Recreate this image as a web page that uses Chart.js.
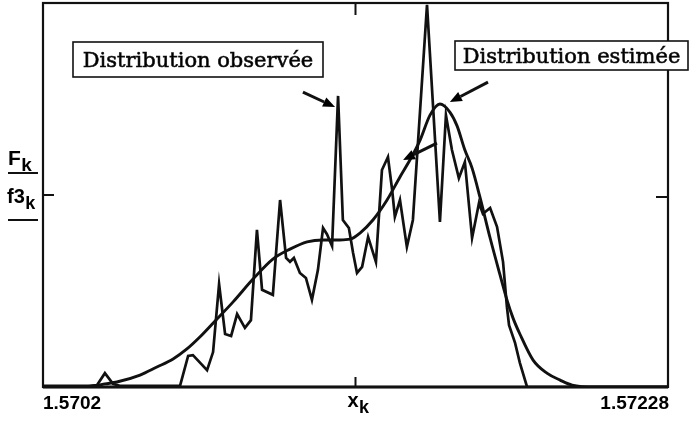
<!DOCTYPE html>
<html>
<head>
<meta charset="utf-8">
<script src="https://cdn.jsdelivr.net/npm/chart.js@4"></script>
<style>
  html, body { margin: 0; padding: 0; background: #fff; }
  canvas { display: block; }
</style>
</head>
<body>
<canvas id="chart" width="690" height="424"></canvas>
<script>
// --- Data ---
// observed distribution F_k
const obsX = [1.570200, 1.570356, 1.570380, 1.570406, 1.570433, 1.570456, 1.570656, 1.570683, 1.570699, 1.570746,
              1.570766, 1.570786, 1.570806, 1.570826, 1.570846, 1.570872, 1.570892, 1.570912, 1.570929, 1.570965,
              1.570989, 1.571009, 1.571022, 1.571035, 1.571055, 1.571075, 1.571095, 1.571115, 1.571132, 1.571145,
              1.571162, 1.571182, 1.571198, 1.571218, 1.571232, 1.571245, 1.571262, 1.571282, 1.571308, 1.571328,
              1.571348, 1.571362, 1.571371, 1.571388, 1.571411, 1.571431, 1.571478, 1.571521, 1.571541, 1.571561,
              1.571584, 1.571604, 1.571628, 1.571651, 1.571664, 1.571688, 1.571711, 1.571731, 1.571744, 1.571751,
              1.571771, 1.571787, 1.571811, 1.572280];
const obsY = [0.3, 0.3, 0.5, 3.6, 0.8, 0.3, 0.3, 8.1, 8.3, 4.4,
              9.1, 26.8, 13.8, 13.3, 19.0, 15.4, 17.4, 40.9, 25.3, 24.0,
              48.7, 33.6, 32.6, 33.6, 29.7, 28.4, 22.7, 30.5, 41.4, 39.8,
              36.7, 75.8, 43.5, 41.4, 34.9, 29.7, 31.3, 39.1, 32.6, 56.5,
              59.9, 51.3, 44.3, 48.7, 36.5, 43.5, 99.5, 43.0, 70.8, 61.7,
              54.4, 58.6, 38.8, 47.9, 45.1, 46.6, 41.7, 32.6, 20.8, 16.1,
              11.5, 6.3, 0, 0];

// estimated distribution f3_k
const estX = [1.570200, 1.570373, 1.570406, 1.570446, 1.570523, 1.570579, 1.570633, 1.570679, 1.570722, 1.570779,
              1.570832, 1.570899, 1.570965, 1.571022, 1.571079, 1.571132, 1.571188, 1.571222, 1.571255, 1.571298,
              1.571345, 1.571388, 1.571421, 1.571455, 1.571488, 1.571521, 1.571554, 1.571578, 1.571604, 1.571628,
              1.571654, 1.571688, 1.571721, 1.571744, 1.571764, 1.571787, 1.571831, 1.571877, 1.571921, 1.571961,
              1.572037, 1.572280];
const estY = [0, 0.3, 0.8, 1.3, 3.1, 5.2, 7.3, 9.9, 13.0, 17.7,
              22.1, 28.1, 33.3, 35.9, 37.8, 38.3, 38.3, 38.5, 40.1, 43.5,
              48.7, 54.7, 59.1, 64.3, 70.8, 73.7, 71.6, 68.0, 61.7, 57.0,
              49.5, 38.8, 29.2, 22.7, 18.0, 13.8, 7.0, 3.6, 1.8, 0.5,
              0, 0];

const xMin = 1.5702, xMax = 1.57228;
const xTickLabels = ['1.5702', '1.57228'];
const xTickMarks = [1.57124];
const yTickMarks = [50];
const labelObs = 'Distribution observée';
const labelEst = 'Distribution estimée';

// arrows: [tailX, tailY, headX, headY] in data units
const arrows = [
    [1.571065, 76.8, 1.571172, 72.9],
    [1.571681, 79.4, 1.571554, 74.2],
    [1.571511, 63.5, 1.571398, 59.1],
];

const toPoints = (xs, ys) => xs.map((x, i) => ({ x, y: ys[i] }));

// text with a subscript, left aligned at x, baseline y
const drawSub = (ctx, main, sub, x, y, size) => {
    ctx.font = `bold ${size}px "Liberation Sans", Arial, sans-serif`;
    ctx.textAlign = 'left';
    ctx.textBaseline = 'alphabetic';
    ctx.fillText(main, x, y);
    const w = ctx.measureText(main).width;
    ctx.font = `bold ${size - 2}px "Liberation Sans", Arial, sans-serif`;
    ctx.fillText(sub, x + w + 0.5, y + 6);
};

const drawArrow = (ctx, x1, y1, x2, y2) => {
    const ang = Math.atan2(y2 - y1, x2 - x1);
    const len = 12, half = 5;
    const bx = x2 - len * Math.cos(ang), by = y2 - len * Math.sin(ang);
    ctx.lineWidth = 3;
    ctx.beginPath();
    ctx.moveTo(x1, y1);
    ctx.lineTo(bx, by);
    ctx.stroke();
    ctx.beginPath();
    ctx.moveTo(x2, y2);
    ctx.lineTo(bx + half * Math.sin(ang), by - half * Math.cos(ang));
    ctx.lineTo(bx - half * Math.sin(ang), by + half * Math.cos(ang));
    ctx.closePath();
    ctx.fill();
};

const drawBox = (ctx, text, left, top, right, bottom, baseline) => {
    ctx.fillStyle = '#fff';
    ctx.fillRect(left, top, right - left, bottom - top);
    ctx.lineWidth = 1.6;
    ctx.strokeRect(left, top, right - left, bottom - top);
    ctx.fillStyle = '#000';
    ctx.font = '21px "DejaVu Serif", serif';
    ctx.textAlign = 'center';
    ctx.textBaseline = 'alphabetic';
    ctx.lineWidth = 0.6;
    ctx.fillText(text, (left + right) / 2, baseline);
    ctx.strokeText(text, (left + right) / 2, baseline);
};

const framePlugin = {
    id: 'frame',
    afterDatasetsDraw(chart) {
        const { ctx, chartArea: a, scales: { x, y } } = chart;
        ctx.save();
        ctx.strokeStyle = '#111';
        ctx.fillStyle = '#000';
        ctx.lineCap = 'butt';

        // frame
        ctx.lineWidth = 2.2;
        ctx.strokeRect(a.left, a.top, a.right - a.left, a.bottom - a.top);
        ctx.lineWidth = 3;
        ctx.beginPath();
        ctx.moveTo(a.left, a.bottom); ctx.lineTo(a.right, a.bottom);
        ctx.stroke();

        // ticks
        ctx.lineWidth = 2;
        xTickMarks.forEach(v => {
            const px = x.getPixelForValue(v);
            ctx.beginPath();
            ctx.moveTo(px, a.bottom); ctx.lineTo(px, a.bottom - 10);
            ctx.moveTo(px, a.top); ctx.lineTo(px, a.top + 12);
            ctx.stroke();
        });
        yTickMarks.forEach(v => {
            const py = y.getPixelForValue(v);
            ctx.beginPath();
            ctx.moveTo(a.left, py); ctx.lineTo(a.left + 11, py);
            ctx.moveTo(a.right, py + 2); ctx.lineTo(a.right - 12, py + 2);
            ctx.stroke();
        });

        // x tick labels
        ctx.font = 'bold 19px "Liberation Sans", Arial, sans-serif';
        ctx.textBaseline = 'alphabetic';
        ctx.textAlign = 'left';
        ctx.fillText(xTickLabels[0], x.getPixelForValue(xMin), 409);
        ctx.textAlign = 'right';
        ctx.fillText(xTickLabels[1], x.getPixelForValue(xMax) + 1, 409);
        drawSub(ctx, 'x', 'k', x.getPixelForValue(xTickMarks[0]) - 8, 407, 20);

        // y labels
        drawSub(ctx, 'F', 'k', 8, 165, 21);
        drawSub(ctx, 'f3', 'k', 7, 203, 20);
        ctx.lineWidth = 1.8;
        ctx.beginPath();
        ctx.moveTo(8, 173); ctx.lineTo(38, 173);
        ctx.moveTo(8, 220); ctx.lineTo(38, 220);
        ctx.stroke();

        // arrows
        arrows.forEach(([tx, ty, hx, hy]) => {
            drawArrow(ctx, x.getPixelForValue(tx), y.getPixelForValue(ty),
                           x.getPixelForValue(hx), y.getPixelForValue(hy));
        });

        // label boxes
        drawBox(ctx, labelObs, 73, 42, 323, 77, 67);
        drawBox(ctx, labelEst, 455, 41, 688, 70, 63);
        ctx.restore();
    }
};

new Chart(document.getElementById('chart').getContext('2d'), {
    type: 'line',
    data: {
        datasets: [{
            label: labelObs, data: toPoints(obsX, obsY),
            borderColor: '#111', borderWidth: 2.7, pointRadius: 0, tension: 0,
            borderJoinStyle: 'miter'
        }, {
            label: labelEst, data: toPoints(estX, estY),
            borderColor: '#111', borderWidth: 2.9, pointRadius: 0,
            cubicInterpolationMode: 'monotone'
        }]
    },
    options: {
        responsive: false, animation: false, devicePixelRatio: 1,
        layout: { padding: { left: 43, right: 22, top: 3, bottom: 37 } },
        plugins: { legend: { display: false }, tooltip: { enabled: false } },
        scales: {
            x: { type: 'linear', min: xMin, max: xMax, display: false },
            y: { min: 0, max: 100, display: false }
        }
    },
    plugins: [framePlugin]
});
</script>
</body>
</html>
